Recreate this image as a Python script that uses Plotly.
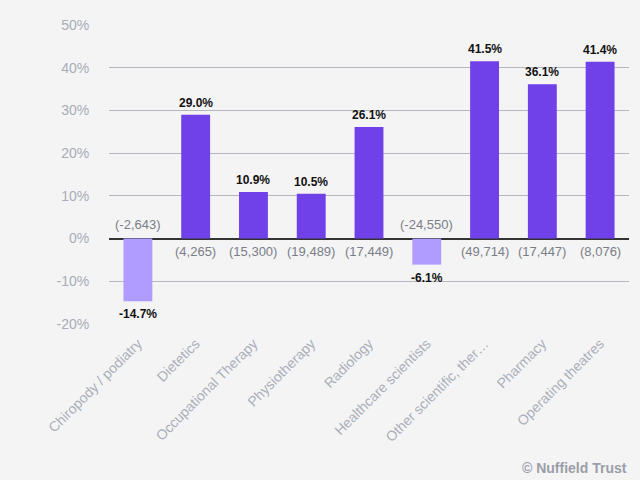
import plotly.graph_objects as go

categories = ["Chiropody / podiatry", "Dietetics", "Occupational Therapy", "Physiotherapy",
              "Radiology", "Healthcare scientists", "Other scientific, ther…", "Pharmacy",
              "Operating theatres"]
pct_change = [-14.7, 29.0, 10.9, 10.5, 26.1, -6.1, 41.5, 36.1, 41.4]
counts = ["(-2,643)", "(4,265)", "(15,300)", "(19,489)", "(17,449)", "(-24,550)",
          "(49,714)", "(17,447)", "(8,076)"]
y_ticks = [-20, -10, 0, 10, 20, 30, 40, 50]

DARK = "#7040e8"
LIGHT = "#b09cff"
colors = [LIGHT if v < 0 else DARK for v in pct_change]

fig = go.Figure(go.Bar(
    x=categories, y=pct_change, marker=dict(color=colors, line=dict(width=0)),
    width=0.5, hoverinfo="skip"))

annotations = []
for c, v, n in zip(categories, pct_change, counts):
    annotations.append(dict(
        x=c, y=v, xref="x", yref="y", text=f"<b>{v:.1f}%</b>", showarrow=False,
        yshift=12 if v >= 0 else -13,
        font=dict(family="Liberation Sans, Arial", size=12, color="#111111")))
    annotations.append(dict(
        x=c, y=0, xref="x", yref="y", text=n, showarrow=False,
        yshift=-13 if v >= 0 else 14,
        font=dict(family="Liberation Sans, Arial", size=13, color="#7a7e88")))
annotations.append(dict(
    x=1, y=0, xref="paper", yref="paper", xanchor="right", yanchor="middle",
    yshift=-144, text="<b>© Nuffield Trust</b>", showarrow=False,
    font=dict(family="Liberation Sans, Arial", size=14, color="#9a9ea8")))

fig.update_layout(
    width=640, height=480,
    paper_bgcolor="#f4f4f4", plot_bgcolor="#f4f4f4",
    margin=dict(l=109, r=11, t=25, b=156),
    showlegend=False, bargap=0.5,
    annotations=annotations,
    font=dict(family="Liberation Sans, Arial"),
    xaxis=dict(tickangle=-45, tickfont=dict(size=14, color="#abafba"),
               showgrid=False, ticks="outside", ticklen=5, tickcolor="rgba(0,0,0,0)",
               showline=False, automargin=False),
    yaxis=dict(range=[-20, 50], tickvals=y_ticks, ticktext=[f"{t}%" for t in y_ticks],
               tickfont=dict(size=14, color="#a8acb8"), gridcolor="#b4b7be", gridwidth=1,
               zeroline=True, zerolinecolor="#333333", zerolinewidth=1.5,
               ticks="outside", ticklen=16, tickcolor="rgba(0,0,0,0)",
               showline=False, automargin=False),
)

fig.write_html("out.html", config={"displayModeBar": False},
               post_script="document.body.style.margin='0';")
